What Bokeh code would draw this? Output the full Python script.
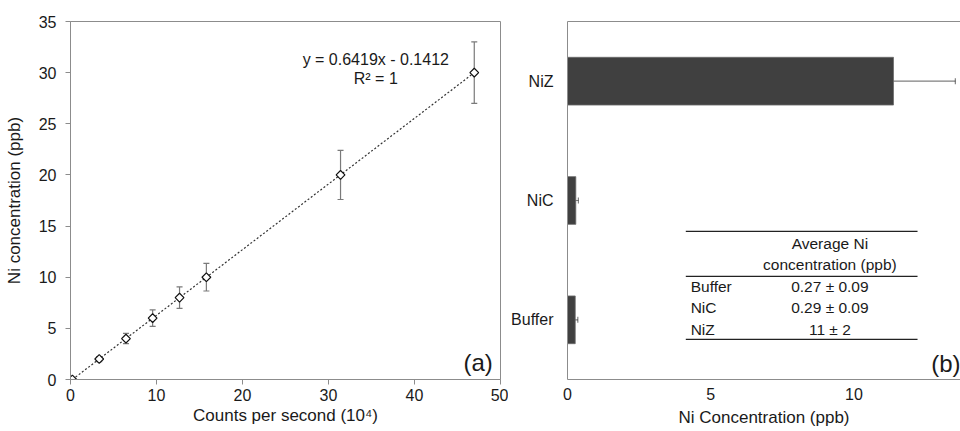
from bokeh.plotting import figure
from bokeh.layouts import row
from bokeh.models import (Range1d, FactorRange, LinearAxis, Whisker, ColumnDataSource,
                          Label, FixedTicker, TeeHead)
from bokeh.embed import file_html
from bokeh.resources import INLINE

# ---------------- data ----------------
# (a) calibration
cps = [0.22, 3.34, 6.45, 9.55, 12.68, 15.8, 31.4, 46.95]          # counts per second (10^4)
conc = [0, 2, 4, 6, 8, 10, 20, 30]                                   # Ni concentration (ppb)
conc_err = [0.0, 0.25, 0.5, 0.8, 1.05, 1.35, 2.4, 3.0]
slope = 0.6419
intercept = -0.1412
r2 = 1
x_ticks_a = [0, 10, 20, 30, 40, 50]
y_ticks_a = [0, 5, 10, 15, 20, 25, 30, 35]

# (b) measured samples
samples = ["Buffer", "NiC", "NiZ"]
sample_mean = [0.27, 0.29, 11.38]
sample_err = [0.09, 0.09, 2.16]
x_ticks_b = [0, 5, 10]
table_header = ["Average Ni", "concentration (ppb)"]
table_rows = ["Buffer", "NiC", "NiZ"]
table_vals = ["0.27 \u00b1 0.09", "0.29 \u00b1 0.09", "11 \u00b1 2"]

FONT = "Liberation Sans"
AXC = "#8c8c8c"
TXT = "#1a1a1a"


def style_axis(ax, ticks=None, tick_out=5):
    if ticks is not None:
        ax.ticker = FixedTicker(ticks=ticks)
    ax.axis_line_color = AXC
    ax.major_tick_line_color = AXC
    ax.major_tick_in = 0
    ax.major_tick_out = tick_out
    ax.minor_tick_line_color = None
    ax.major_label_text_font = FONT
    ax.major_label_text_font_size = "16px"
    ax.major_label_text_color = TXT
    ax.axis_label_text_font = FONT
    ax.axis_label_text_font_size = "17px"
    ax.axis_label_text_font_style = "normal"
    ax.axis_label_text_color = TXT


# ---------------- panel (a) ----------------
p1 = figure(width=508, height=431, x_range=Range1d(0, 50), y_range=Range1d(0, 35),
            output_backend="svg", toolbar_location=None,
            min_border_left=70, min_border_right=8, min_border_top=21, min_border_bottom=52)
p1.grid.visible = False
p1.outline_line_color = AXC
p1.outline_line_width = 1
style_axis(p1.xaxis[0], x_ticks_a)
style_axis(p1.yaxis[0], y_ticks_a)
p1.xaxis[0].axis_label = "Counts per second (10\u2074)"
p1.yaxis[0].axis_label = "Ni concentration (ppb)"
p1.xaxis[0].major_label_standoff = 4
p1.xaxis[0].axis_label_standoff = 2
p1.yaxis[0].major_label_standoff = 9
p1.yaxis[0].axis_label_standoff = 12

# trendline
tx = [min(cps), max(cps)]
ty = [slope * v + intercept for v in tx]
p1.line(tx, ty, line_color="#333333", line_width=1.2, line_dash="2 2")

src_a = ColumnDataSource(dict(x=cps, y=conc,
                              lo=[c - e for c, e in zip(conc, conc_err)],
                              hi=[c + e for c, e in zip(conc, conc_err)]))
wa = Whisker(base="x", lower="lo", upper="hi", dimension="height", source=src_a,
             line_color="#7a7a7a", line_width=1.2,
             upper_head=TeeHead(size=6, line_color="#7a7a7a", line_width=1.2),
             lower_head=TeeHead(size=6, line_color="#7a7a7a", line_width=1.2))
p1.add_layout(wa)
p1.scatter("x", "y", source=src_a, marker="square", angle=0.785398, size=6.2,
           fill_color="white", line_color="#111111", line_width=1.2)

eq = f"y = {slope}x - {abs(intercept)}"
p1.add_layout(Label(x=35.5, y=31.3, text=eq, text_align="center", text_baseline="middle",
                    text_font=FONT, text_font_size="16px", text_color=TXT))
p1.add_layout(Label(x=35.5, y=29.4, text=f"R\u00b2 = {r2}", text_align="center",
                    text_baseline="middle", text_font=FONT, text_font_size="16px",
                    text_color=TXT))
p1.add_layout(Label(x=49.1, y=1.7, text="(a)", text_align="right", text_baseline="middle",
                    text_font=FONT, text_font_size="24px", text_color=TXT))

# ---------------- panel (b) ----------------
p2 = figure(width=452, height=431, y_range=FactorRange(factors=samples),
            x_range=Range1d(0, 13.72),
            output_backend="svg", toolbar_location=None,
            min_border_left=54, min_border_right=0, min_border_top=21, min_border_bottom=52)
p2.grid.visible = False
p2.outline_line_color = None
style_axis(p2.xaxis[0], x_ticks_b, tick_out=0)
style_axis(p2.yaxis[0], None, tick_out=0)
p2.xaxis[0].axis_label = "Ni Concentration (ppb)"
p2.xaxis[0].major_label_standoff = 8
p2.xaxis[0].axis_label_standoff = 5
p2.yaxis[0].major_label_standoff = 14

top = LinearAxis(ticker=FixedTicker(ticks=[]), axis_line_color=AXC, major_tick_in=0,
                 major_tick_out=0, minor_tick_line_color=None,
                 major_label_text_font_size="0px", major_label_standoff=0)
p2.add_layout(top, "above")

src_b = ColumnDataSource(dict(y=samples, right=sample_mean,
                              lo=[m - e for m, e in zip(sample_mean, sample_err)],
                              hi=[m + e for m, e in zip(sample_mean, sample_err)]))
p2.hbar(y="y", left=0, right="right", height=0.4, source=src_b,
        fill_color="#404040", line_color="#6a6a6a", line_width=0.8)
wb = Whisker(base="y", lower="lo", upper="hi", dimension="width", source=src_b,
             line_color="black", line_alpha=0.5, line_width=1.2,
             upper_head=TeeHead(size=6, line_color="black", line_alpha=0.5, line_width=1.2),
             lower_head=TeeHead(size=6, line_color="black", line_alpha=0.5, line_width=1.2))
p2.add_layout(wb)

# inset table (synthetic categorical coordinates)
tab_x0, tab_x1, tab_xc, tab_xl = 4.13, 12.22, 9.16, 4.3
p2.segment(x0=[tab_x0] * 3, x1=[tab_x1] * 3, y0=[1.242, 0.864, 0.336], y1=[1.242, 0.864, 0.336],
           line_color="#222222", line_width=1.2)
for txt, yy in zip(table_header, [1.136, 0.967]):
    p2.add_layout(Label(x=tab_xc, y=yy, text=txt, text_align="center", text_baseline="middle",
                        text_font=FONT, text_font_size="15.5px", text_color=TXT))
for lab, val, yy in zip(table_rows, table_vals, [0.778, 0.603, 0.4225]):
    p2.add_layout(Label(x=tab_xl, y=yy, text=lab, text_align="left", text_baseline="middle",
                        text_font=FONT, text_font_size="15.5px", text_color=TXT))
    p2.add_layout(Label(x=tab_xc, y=yy, text=val, text_align="center", text_baseline="middle",
                        text_font=FONT, text_font_size="15.5px", text_color=TXT))

p2.add_layout(Label(x=13.72, y=0.133, text="(b)", text_align="right", text_baseline="middle",
                    text_font=FONT, text_font_size="24px", text_color=TXT))

layout = row(p1, p2)
open("out.html", "w").write(file_html(layout, INLINE))
